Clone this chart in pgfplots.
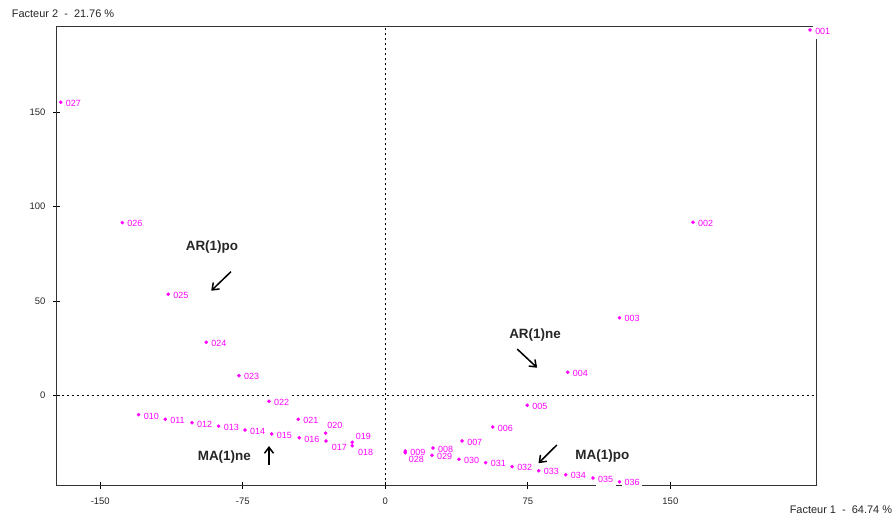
\documentclass[border=0pt]{standalone}
\usepackage{fontspec}
\setmainfont{Liberation Sans}
\usepackage{pgfplots}
\usepackage{pgfplotstable}
\pgfplotsset{compat=1.18}
\usetikzlibrary{arrows.meta}
\definecolor{mag}{RGB}{255,0,255}
\pgfplotstableread{
x y label dx dy
223.5 193.6 001 2.5 1
161.9 91.7 002 2.5 1
123.2 41.1 003 2.5 1
96.0 12.2 004 2.5 1
74.7 -5.3 005 2.5 1
56.5 -16.8 006 2.5 1
40.4 -24.2 007 2.5 1
25.1 -27.9 008 2.5 1
10.5 -29.5 009 2.5 1
-129.8 -10.3 010 2.5 1.3
-115.8 -12.7 011 2.5 1.3
-101.7 -14.5 012 2.5 1.3
-87.7 -16.4 013 2.5 1.3
-73.8 -18.4 014 2.5 1.3
-59.8 -20.5 015 2.5 1.3
-45.3 -22.5 016 2.5 1.3
-31.2 -24.2 017 3.2 6.7
-17.4 -26.7 018 3.2 6.6
-17.4 -24.9 019 0.9 -6.3
-31.4 -20.1 020 -0.9 -7.6
-45.8 -12.7 021 2.5 1.3
-61.2 -3.2 022 2.5 1
-77.0 10.4 023 2.5 1
-94.2 28.1 024 2.5 1
-114.2 53.5 025 2.5 1
-138.4 91.5 026 2.5 1
-170.8 155.3 027 2.5 1
10.5 -30.5 028 0.9 6.6
24.6 -31.8 029 2.5 1
38.8 -33.9 030 2.5 1
52.8 -35.7 031 2.5 1
66.7 -37.8 032 2.5 1
80.7 -40.0 033 2.5 1
94.9 -42.1 034 2.5 1
109.3 -43.8 035 2.5 1
123.2 -45.8 036 2.5 1
}\pts
\begin{document}
\begin{tikzpicture}[x=1bp,y=1bp]
\path (-56.7bp,-35.7bp) rectangle (839.3bp,485.3bp);
\begin{axis}[at={(0,0)}, anchor=south west, scale only axis,
  width=760bp, height=459.3bp,
  xmin=-172.9, xmax=227.0, ymin=-47.7, ymax=195.7,
  xtick={-150,-75,0,75,150}, ytick={0,50,100,150},
  tick pos=left, tick align=center, major tick length=7bp,
  axis line style={black!80, line width=0.8bp},
  tick style={black, line width=0.7bp},
  ticklabel style={font=\fontsize{9.5}{10}\selectfont, text=black!85},
  /pgf/number format/assume math mode=true,
  xticklabel style={anchor=center, inner sep=0pt, yshift=-12.4bp},
  yticklabel style={anchor=east, inner sep=0pt, xshift=-7.7bp},
  clip=false]
\draw[black, line width=0.6bp, dash pattern=on 2.5bp off 2.5bp] (axis cs:0,-47.7) -- (axis cs:0,195.7);
\draw[black, line width=0.6bp, dash pattern=on 2.5bp off 2.5bp] (axis cs:-172.9,0) -- (axis cs:227.0,0);
% white boxes behind labels
\addplot[only marks, mark=none, draw=none,
  nodes near coords, point meta=explicit symbolic,
  visualization depends on={\thisrow{dx} \as \dx},
  visualization depends on={\thisrow{dy} \as \dy},
  every node near coord/.style={anchor=west, inner xsep=2.5bp, inner ysep=4.5bp, fill=white,
     text=white, font=\fontsize{9}{10}\selectfont, xshift=\dx bp, yshift=-\dy bp}]
table[meta=label] {\pts};
% marks and labels
\addplot[only marks, mark=*, mark size=1.6bp, mag,
  nodes near coords, point meta=explicit symbolic,
  visualization depends on={\thisrow{dx} \as \dx},
  visualization depends on={\thisrow{dy} \as \dy},
  every node near coord/.style={anchor=west, inner xsep=2.5bp, inner ysep=4.5bp,
     text=mag, font=\fontsize{9}{10}\selectfont, xshift=\dx bp, yshift=-\dy bp}]
table[meta=label] {\pts};
\node[font=\bfseries\fontsize{13.5}{15}\selectfont, text=black!85] at (axis cs:-91.2,78.6) {AR(1)po};
\draw[-{Straight Barb[length=6bp,width=9bp]}, line width=1.5bp] (axis cs:-81.2,65.5) -- (axis cs:-91.6,55.4);
\node[font=\bfseries\fontsize{13.5}{15}\selectfont, text=black!85] at (axis cs:78.8,32.0) {AR(1)ne};
\draw[-{Straight Barb[length=6bp,width=9bp]}, line width=1.5bp] (axis cs:69.4,24.5) -- (axis cs:79.9,14.6);
\node[font=\bfseries\fontsize{13.5}{15}\selectfont, text=black!85] at (axis cs:-84.7,-32.5) {MA(1)ne};
\draw[-{Straight Barb[length=6bp,width=9bp]}, line width=1.5bp] (axis cs:-61.2,-37.0) -- (axis cs:-61.2,-26.9);
\node[font=\bfseries\fontsize{13.5}{15}\selectfont, text=black!85] at (axis cs:114.2,-32.2) {MA(1)po};
\draw[-{Straight Barb[length=6bp,width=9bp]}, line width=1.5bp] (axis cs:90.3,-26.3) -- (axis cs:80.6,-36.0);
\end{axis}
\node[anchor=west, inner sep=0pt, font=\fontsize{11}{12}\selectfont, text=black!85] at (-45bp,471.3bp) {Facteur 2\ \ -\ \ 21.76 \%};
\node[anchor=east, inner sep=0pt, font=\fontsize{11}{12}\selectfont, text=black!85] at (835.6bp,-24.7bp) {Facteur 1\ \ -\ \ 64.74 \%};
\end{tikzpicture}
\end{document}
